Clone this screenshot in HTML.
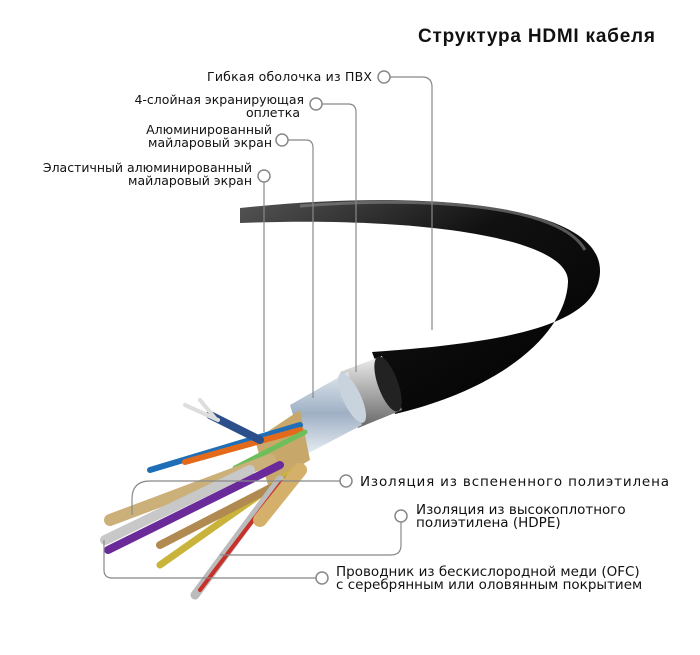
<!DOCTYPE html><html><head><meta charset="utf-8"><style>
body{margin:0;background:#fff}
.t{font-family:"DejaVu Sans","Liberation Sans",sans-serif;fill:#111}
</style></head><body>
<svg width="700" height="650" viewBox="0 0 700 650" xmlns="http://www.w3.org/2000/svg">
<defs>
<linearGradient id="blk" x1="0" y1="0" x2="1" y2="1"><stop offset="0" stop-color="#555"/><stop offset=".4" stop-color="#111"/><stop offset="1" stop-color="#000"/></linearGradient>
<linearGradient id="brd" x1="0" y1="0" x2="0" y2="1"><stop offset="0" stop-color="#eee"/><stop offset=".5" stop-color="#aaa"/><stop offset="1" stop-color="#666"/></linearGradient>
<linearGradient id="foil" x1="0" y1="0" x2="0" y2="1"><stop offset="0" stop-color="#dfe6ee"/><stop offset=".5" stop-color="#9fb0c4"/><stop offset="1" stop-color="#e8eef4"/></linearGradient>
</defs>
<text x="418" y="42" font-size="19" font-weight="bold" font-family="Liberation Sans, sans-serif" fill="#111" textLength="237">Структура HDMI кабеля</text>
<path d="M240,208 C430,188 602,205 600,272 C598,322 520,342 372,352 L395,414 C505,388 566,332 568,282 C570,238 420,216 240,223 Z" fill="url(#blk)"/>
<path d="M300,206 C430,196 560,205 585,250" stroke="#888" stroke-width="3" fill="none" opacity=".6"/>
<path d="M340,372 L382,356 L402,410 L358,428 Z" fill="url(#brd)"/>
<ellipse cx="388" cy="384" rx="10" ry="29" fill="#222" transform="rotate(-20 388 384)"/>
<path d="M290,405 L348,372 L362,425 L305,455 Z" fill="url(#foil)"/>
<ellipse cx="352" cy="398" rx="9" ry="27" fill="#c9d3de" transform="rotate(-25 352 398)"/>
<path d="M255,440 L300,410 L310,460 L268,485 Z" fill="#c8a86a"/>
<g fill="none" stroke-linecap="round">
<path d="M300,425 L150,470" stroke="#1f6fb8" stroke-width="6"/>
<path d="M300,430 L185,462" stroke="#e36a1a" stroke-width="6"/>
<path d="M305,432 L235,468" stroke="#6cbf5a" stroke-width="5"/>
<path d="M260,440 L210,415" stroke="#2a4f8a" stroke-width="8"/>
<path d="M218,420 L185,405 M215,418 L200,400" stroke="#ddd" stroke-width="4"/>
<path d="M270,460 L110,520" stroke="#ccb07a" stroke-width="12"/>
<path d="M250,470 L105,540" stroke="#c8c8c8" stroke-width="10"/>
<path d="M280,465 L108,550" stroke="#6a2a9a" stroke-width="8"/>
<path d="M295,470 L160,565" stroke="#c9b33a" stroke-width="7"/>
<path d="M290,478 L160,545" stroke="#b08a50" stroke-width="8"/>
<path d="M280,480 L195,595" stroke="#bbb" stroke-width="9"/>
<path d="M282,482 L200,590" stroke="#c8312a" stroke-width="4"/>
<path d="M300,470 L260,520" stroke="#d4b06a" stroke-width="14"/>
</g>
<g fill="none" stroke="#888" stroke-width="1.2">
<path d="M390,77 H422 Q432,77 432,87 V330"/>
<path d="M322,104 H348 Q356,104 356,112 V372"/>
<path d="M288,140 H306 Q313,140 313,148 V398"/>
<path d="M264,182 V432"/>
<path d="M340,481 H150 Q132,481 132,499 V515"/>
<path d="M401,522 V545 Q401,555 391,555 H220"/>
<path d="M316,578 H112 Q104,578 104,570 V540"/>
</g>
<g fill="#fff" stroke="#888" stroke-width="1.5">
<circle cx="384" cy="77" r="6"/><circle cx="316" cy="104" r="6"/><circle cx="282" cy="140" r="6"/><circle cx="264" cy="176" r="6"/>
<circle cx="346" cy="481" r="6"/><circle cx="401" cy="516" r="6"/><circle cx="322" cy="578" r="6"/>
</g>
<g class="t" font-size="12.5">
<text x="372" y="81" text-anchor="end" textLength="165">Гибкая оболочка из ПВХ</text>
<text x="304" y="104" text-anchor="end">4-слойная экранирующая</text>
<text x="300" y="117" text-anchor="end">оплетка</text>
<text x="272" y="134" text-anchor="end">Алюминированный</text>
<text x="272" y="147" text-anchor="end">майларовый экран</text>
<text x="252" y="172" text-anchor="end">Эластичный алюминированный</text>
<text x="252" y="185" text-anchor="end">майларовый экран</text>
</g>
<g class="t" font-size="13.5">
<text x="360" y="486" textLength="309">Изоляция из вспененного полиэтилена</text>
<text x="416" y="514">Изоляция из высокоплотного</text>
<text x="416" y="527">полиэтилена (HDPE)</text>
<text x="336" y="576">Проводник из бескислородной меди (OFC)</text>
<text x="336" y="589">с серебрянным или оловянным покрытием</text>
</g>
</svg>
</body></html>
